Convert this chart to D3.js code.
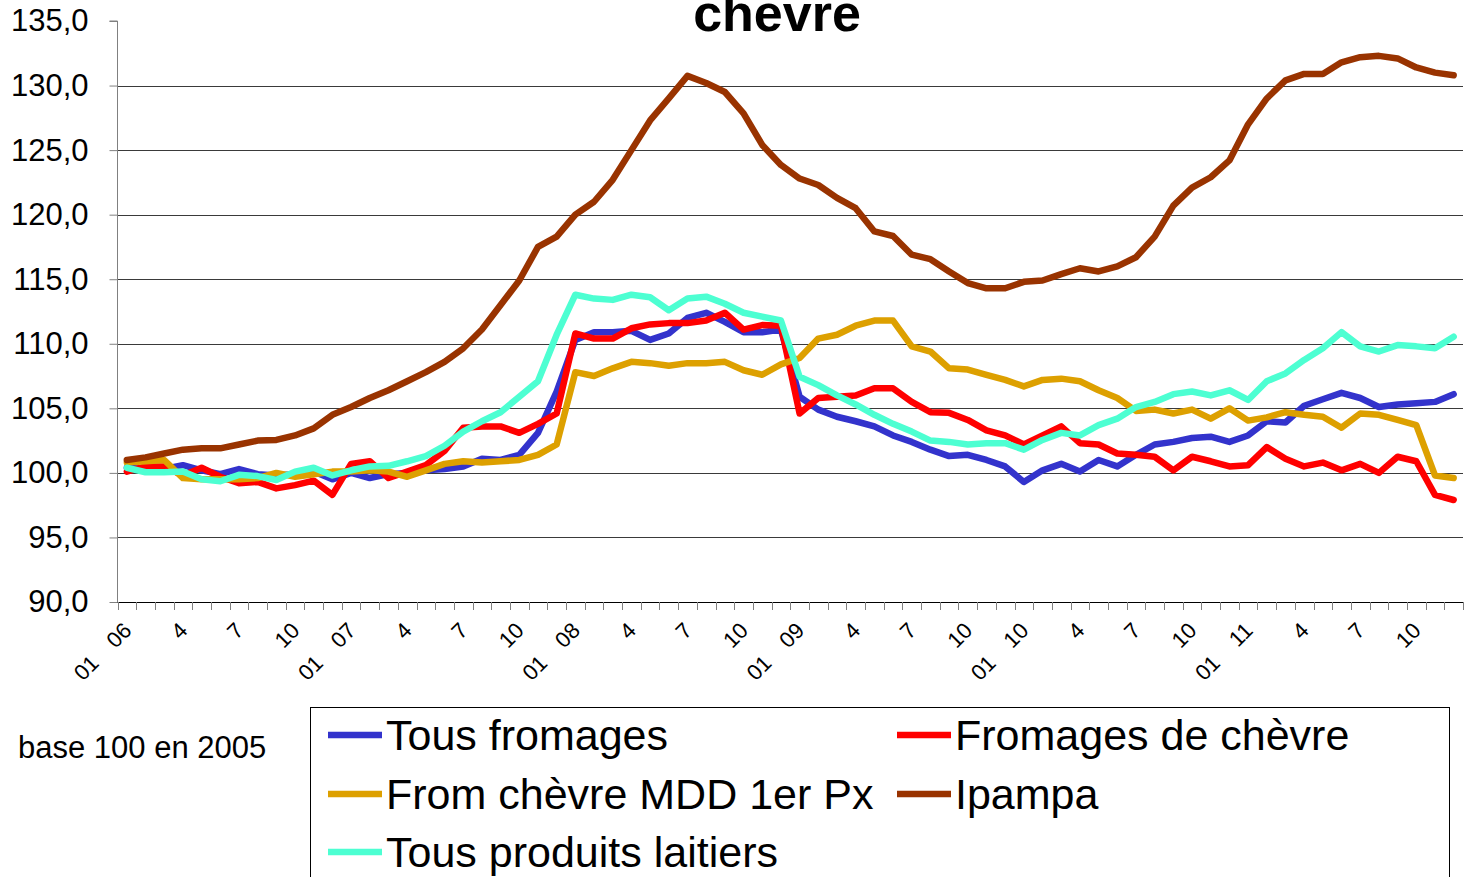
<!DOCTYPE html>
<html>
<head>
<meta charset="utf-8">
<script src="https://cdn.jsdelivr.net/npm/d3@7"></script>
<style>
  html, body { margin: 0; padding: 0; background: #fff; }
  svg { display: block; font-family: Arial, "Liberation Sans", sans-serif; }
</style>
</head>
<body>
<svg id="chart" width="1470" height="877"></svg>
<script>
// ---------- DATA ----------
const years = ["06", "07", "08", "09", "10", "11"];
const monthNums = ["01","02","03","04","05","06","07","08","09","10","11","12"];
const categories = [];
years.forEach(yr => monthNums.forEach(m => categories.push(m + " " + yr)));
// tick label shown for months 1, 4, 7, 10
const tickLabelMonths = { "01": null, "04": "4", "07": "7", "10": "10" };

const tousFromages = [
  100.4, 100.3, 100.3, 100.6, 100.2, 99.9, 100.3, 99.9, 99.8, 99.9, 100.1, 99.5,
  100.0, 99.6, 99.9, 100.0, 100.2, 100.3, 100.5, 101.1, 101.0, 101.4, 103.1, 106.3,
  110.3, 110.9, 110.9, 111.0, 110.3, 110.8, 112.0, 112.4, 111.7, 110.9, 110.9, 111.1,
  105.9, 104.9, 104.35, 104.0, 103.6, 102.9, 102.4, 101.8, 101.3, 101.4, 101.0, 100.5,
  99.3, 100.2, 100.7, 100.1, 101.0, 100.5, 101.4, 102.2, 102.4, 102.7, 102.8, 102.4,
  102.9, 104.0, 103.9, 105.2, 105.7, 106.2, 105.8, 105.1, 105.3, 105.4, 105.5, 106.1
];
const fromagesChevre = [
  100.1, 100.5, 100.5, 99.8, 100.4, 99.7, 99.2, 99.3, 98.8, 99.05, 99.4, 98.3,
  100.7, 100.9, 99.6, 100.1, 100.6, 101.7, 103.5, 103.6, 103.6, 103.1, 103.8, 104.6,
  110.8, 110.4, 110.4, 111.2, 111.5, 111.6, 111.6, 111.8, 112.4, 111.1, 111.45, 111.4,
  104.6, 105.8, 105.9, 106.0, 106.55, 106.55, 105.5, 104.7, 104.65, 104.1, 103.3, 102.9,
  102.2, 102.9, 103.6, 102.3, 102.2, 101.5, 101.4, 101.25, 100.2, 101.25, 100.9, 100.5,
  100.6, 102.0, 101.1, 100.5, 100.8, 100.2, 100.7, 100.0, 101.25, 100.9, 98.3, 97.9
];
const fromChevreMdd = [
  100.8, 100.9, 101.0, 99.6, 99.5, 99.5, 99.5, 99.6, 100.0, 99.7, 99.9, 100.1,
  100.1, 100.2, 100.1, 99.7, 100.2, 100.7, 100.9, 100.8, 100.9, 101.0, 101.4, 102.2,
  107.8, 107.5, 108.1, 108.6, 108.5, 108.3, 108.5, 108.5, 108.6, 107.95, 107.6, 108.4,
  108.9, 110.4, 110.7, 111.4, 111.8, 111.8, 109.8, 109.4, 108.1, 108.0, 107.6, 107.2,
  106.7, 107.2, 107.3, 107.1, 106.4, 105.8, 104.8, 104.9, 104.6, 104.9, 104.2, 105.0,
  104.05, 104.3, 104.7, 104.5, 104.35, 103.5, 104.6, 104.5, 104.1, 103.7, 99.8, 99.6
];
const ipampa = [
  101.0, 101.2, 101.5, 101.8, 101.9, 101.9, 102.2, 102.5, 102.55, 102.9, 103.45, 104.5,
  105.1, 105.8, 106.4, 107.1, 107.8, 108.6, 109.65, 111.1, 113.0, 114.9, 117.5, 118.3,
  120.0, 121.0, 122.7, 125.0, 127.3, 129.0, 130.75, 130.2, 129.5, 127.85, 125.4, 123.85,
  122.8, 122.3, 121.3, 120.5, 118.7, 118.35, 116.9, 116.55, 115.6, 114.7, 114.3, 114.3,
  114.8, 114.9, 115.4, 115.85, 115.6, 116.0, 116.7, 118.3, 120.7, 122.1, 122.9, 124.2,
  127.0, 129.0, 130.4, 130.9, 130.9, 131.8, 132.2, 132.3, 132.1, 131.4, 131.0, 130.8
];
const tousLaitiers = [
  100.4, 100.05, 100.05, 100.1, 99.5, 99.35, 99.85, 99.75, 99.45, 100.1, 100.4, 99.8,
  100.2, 100.5, 100.55, 100.9, 101.3, 102.1, 103.2, 104.0, 104.7, 105.9, 107.1, 110.7,
  113.8, 113.5, 113.4, 113.8, 113.6, 112.6, 113.5, 113.65, 113.1, 112.4, 112.1, 111.8,
  107.45, 106.8, 106.0, 105.3, 104.5, 103.8, 103.2, 102.5, 102.4, 102.2, 102.3, 102.3,
  101.8, 102.55, 103.1, 102.9, 103.7, 104.2, 105.1, 105.5, 106.1, 106.3, 106.0, 106.4,
  105.65, 107.1, 107.7, 108.75, 109.65, 110.9, 109.8, 109.4, 109.9, 109.8, 109.65, 110.55
];

const seriesNames = ["Tous fromages", "Fromages de chèvre", "From chèvre MDD 1er Px", "Ipampa", "Tous produits laitiers"];
const seriesValues = [tousFromages, fromagesChevre, fromChevreMdd, ipampa, tousLaitiers];
const seriesColors = ["#3333CC", "#FF0000", "#DDA000", "#993300", "#4DFFD2"];
const yTicks = [90, 95, 100, 105, 110, 115, 120, 125, 130, 135];
const titleText = "chevre";
const noteText = "base 100 en 2005";

// ---------- LAYOUT ----------
(function draw() {
const svg = d3.select("#chart");
const pLeft = 117.5, pRight = 1463, pTop = 21, pBottom = 602;

const x = d3.scaleBand().domain(categories).range([pLeft, pRight]).paddingInner(0).paddingOuter(0);
const y = d3.scaleLinear().domain([90, 135]).range([pBottom, pTop]);
const fmt = v => d3.format(".1f")(v).replace(".", ",");

// gridlines
svg.append("g").selectAll("line").data(yTicks.filter(t => t > 90 && t < 135)).join("line")
  .attr("x1", pLeft).attr("x2", pRight)
  .attr("y1", d => Math.round(y(d)) + 0.5).attr("y2", d => Math.round(y(d)) + 0.5)
  .attr("stroke", "#3a3a3a").attr("stroke-width", 1);

// y axis
const yAxis = d3.axisLeft(y).tickValues(yTicks).tickFormat(fmt).tickSize(8).tickPadding(21);
const gy = svg.append("g").attr("transform", `translate(${pLeft},0)`).call(yAxis);
gy.select(".domain").attr("stroke", "#808080").attr("d", `M-8,${y(135)}H0V${pBottom}`);
gy.selectAll(".tick line").attr("stroke", "#808080");
gy.selectAll(".tick text").attr("font-size", 31).attr("fill", "#000")
  .attr("font-family", "Arial, 'Liberation Sans', sans-serif");

// x axis
const xAxis = d3.axisBottom(x).tickValues([]).tickSize(0);
const gx = svg.append("g").attr("transform", `translate(0,${pBottom})`).call(xAxis);
gx.select(".domain").attr("stroke", "#000").attr("d", `M${pLeft},0.5H${pRight}`);
// month boundary ticks
const boundaries = categories.map(c => x(c)).concat([x(categories[categories.length - 1]) + x.bandwidth()]);
gx.selectAll("line.mt").data(boundaries).join("line").attr("class", "mt")
  .attr("x1", d => Math.round(d) + 0.5).attr("x2", d => Math.round(d) + 0.5)
  .attr("y1", 0).attr("y2", 8).attr("stroke", "#808080").attr("stroke-width", 1);

// x labels
const labelData = categories.map((c, i) => ({ c, i, m: c.slice(0, 2), yy: c.slice(3) }))
  .filter(d => d.m in tickLabelMonths);
const lg = svg.append("g").attr("font-size", 22).attr("fill", "#000");
labelData.forEach(d => {
  const cx = x(d.c) + x.bandwidth() / 2 + 1;
  const g = lg.append("g").attr("transform", `translate(${cx},${pBottom + 25}) rotate(-45)`);
  if (d.m === "01") {
    g.append("text").attr("text-anchor", "end").attr("x", 0).attr("y", 7).text(d.yy);
    g.append("text").attr("text-anchor", "end").attr("x", -46).attr("y", 7).text("01");
  } else {
    g.append("text").attr("text-anchor", "end").attr("x", 0).attr("y", 7).text(tickLabelMonths[d.m]);
  }
});

// lines
const line = d3.line().x((d, i) => x(categories[i]) + x.bandwidth() / 2).y(d => y(d));
svg.append("g").selectAll("path").data(seriesValues).join("path")
  .attr("d", d => line(d))
  .attr("fill", "none")
  .attr("stroke", (d, i) => seriesColors[i])
  .attr("stroke-width", 6.5)
  .attr("stroke-linejoin", "round")
  .attr("stroke-linecap", "round");

// title
svg.append("text").attr("x", 777).attr("y", 31).attr("text-anchor", "middle")
  .attr("font-size", 52).attr("font-weight", "bold").text(titleText);

// note
svg.append("text").attr("x", 18).attr("y", 758).attr("font-size", 31).text(noteText);

// legend
const legend = svg.append("g");
legend.append("rect").attr("x", 310.5).attr("y", 707.5).attr("width", 1139).attr("height", 200)
  .attr("fill", "#fff").attr("stroke", "#000").attr("stroke-width", 1);
const legPos = [[328, 735], [897, 735], [328, 794], [897, 794], [328, 852]];
seriesNames.forEach((name, i) => {
  const [lx, ly] = legPos[i];
  legend.append("line").attr("x1", lx).attr("x2", lx + 54).attr("y1", ly).attr("y2", ly)
    .attr("stroke", seriesColors[i]).attr("stroke-width", 6.5);
  legend.append("text").attr("x", lx + 58).attr("y", ly + 15).attr("font-size", 43).text(name);
});
})();
</script>
</body>
</html>
